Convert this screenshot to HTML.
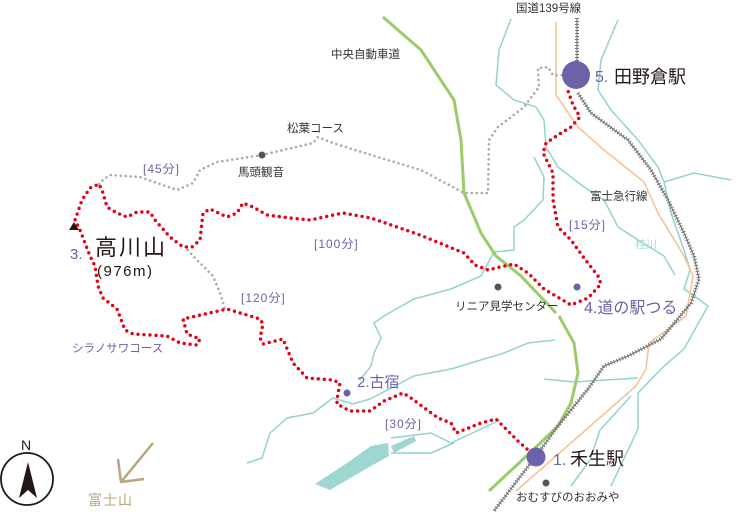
<!DOCTYPE html>
<html><head><meta charset="utf-8"><style>
html,body{margin:0;padding:0;background:#fff;}
svg{display:block;}
text{font-family:"Liberation Sans","Noto Sans CJK JP",sans-serif;}
</style></head><body>
<svg width="742" height="512" viewBox="0 0 742 512" xmlns="http://www.w3.org/2000/svg">
<g fill="none" stroke="#92d3cf" stroke-width="1.5">
<polyline points="511,19 499,50 496,85 514,100 536,107 544,120 546,147 558,167 584,187 604,200 618,227 638,240 664,256 675,275"/>
<polyline points="618,20 601,60 598,90 611,110 638,140 658,167 664,182 671,213 684,250 690,270 684,289 708,306 684,349 664,366 638,393 638,429 611,486"/>
<polyline points="664,182 694,173 731,180"/>
<polyline points="684,289 700,300"/>
<polyline points="534,157 544,177 543,200 524,220 514,227 514,250 494,252 481,276 451,289 414,299 384,316 374,323 381,338 374,353 371,366 360,380"/>
<polyline points="247,463 262,458 270,433 287,418 313,413 333,398 353,404 370,399 391,388 414,376 451,369 504,353 528,343 555,340"/>
<polyline points="544,379 574,382 638,378"/>
<polyline points="391,438 431,433 451,443 481,429 500,420"/>
<polyline points="391,453 431,453 454,443"/>
<polyline points="631,396 600,430 590,460 571,486"/>
</g>
<polygon points="315,484 350,461 371,446 388,443 389,456 371,466 330,490" fill="#9fd6d2"/>
<polygon points="391,446 414,436 416,441 394,453" fill="#9fd6d2"/>
<polyline points="383,17 421,50 454,100 461,140 464,193 481,233 496,256 521,276 556,313" fill="none" stroke="#9ccb6a" stroke-width="3"/>
<polyline points="559,316 574,343 578,373 571,403 558,426 534,449 489,491" fill="none" stroke="#9ccb6a" stroke-width="3"/>
<polyline points="556,22 556,95 578,127 604,150 644,182 658,213 684,256 693,276 686,316 649,343 646,369 636,386 516,491" fill="none" stroke="#f7c08e" stroke-width="1.5"/>
<g fill="none">
<polyline points="577,18 577,75" stroke="#666" stroke-width="1"/>
<polyline points="577,18 577,75" stroke="#777" stroke-width="4" stroke-dasharray="1 2"/>
<polyline points="578,93 591,113 628,140 651,170 668,200 684,233 694,256 699,279 691,303 661,339 628,356 604,366 588,389 558,426 536,456 494,511" stroke="#666" stroke-width="1"/>
<polyline points="578,93 591,113 628,140 651,170 668,200 684,233 694,256 699,279 691,303 661,339 628,356 604,366 588,389 558,426 536,456 494,511" stroke="#777" stroke-width="4" stroke-dasharray="1 2"/>
</g>
<g fill="none" stroke="#aaa" stroke-width="2.6" stroke-linecap="round" stroke-dasharray="0 5">
<polyline points="99,184 103,180 110,175 140,177 177,190 193,183 200,170 217,162 262,155 313,143 318,137 333,143 371,155 421,170 464,193 488,193 489,140 498,127 524,107 539,87 538,68 548,67 553,75 562,75"/>
<polyline points="188,250 193,256 213,276 220,293 225,309"/>
</g>
<g fill="none" stroke="#e60012" stroke-width="3.4" stroke-linecap="round" stroke-dasharray="0 6">
<polyline points="527,449 518,441 496,419 481,423 456,433 451,423 438,418 411,398 403,393 384,401 370,411 350,411 337,404 337,399 340,383 333,380 307,378 293,363 283,339 263,344 260,338 263,324 260,319 227,309 183,319 187,334 200,339 197,345 180,343 167,336 133,334 125,330 117,309 103,298 98,286 95,266 90,256 80,230 75,220 82,200 90,188 99,184 103,193 107,207 117,213 127,217 137,212 150,212 155,220 170,237 183,247 192,247 200,240 203,213 210,209 227,217 237,213 243,203 253,207 267,215 290,218 310,220 343,213 371,218 420,235 464,253 475,265 488,270 500,267 514,264 528,273 544,289 571,305 588,298 601,284 598,276 584,258 571,240 558,227 553,200 553,173 543,153 546,143 558,135 571,127 580,117 573,105 567,88"/>
</g>
<polygon points="74,222 69,230 79,230" fill="#231815"/>
<circle cx="262" cy="155" r="3.5" fill="#555"/>
<circle cx="498" cy="287" r="3.5" fill="#555"/>
<circle cx="546" cy="483" r="3.5" fill="#555"/>
<circle cx="577" cy="287" r="3.5" fill="#6b62a8"/>
<circle cx="347" cy="393" r="3.5" fill="#6b62a8"/>
<circle cx="536" cy="457" r="9.5" fill="#6b62a8"/>
<circle cx="576" cy="75" r="14" fill="#6b62a8"/>
<g font-size="11.5" fill="#333">
<text x="516" y="12">国道139号線</text>
<text x="331" y="58">中央自動車道</text>
<text x="287" y="132">松葉コース</text>
<text x="238" y="176">馬頭観音</text>
<text x="455" y="310">リニア見学センター</text>
<text x="590" y="200">富士急行線</text>
<text x="516" y="501">おむすびのおおみや</text>
</g>
<g font-size="12" fill="#6b62a8" letter-spacing="1">
<text x="143" y="173">[45分]</text>
<text x="314" y="248">[100分]</text>
<text x="241" y="302">[120分]</text>
<text x="385" y="428">[30分]</text>
<text x="569" y="229">[15分]</text>
</g>
<text x="72" y="352" font-size="11.5" fill="#6b62a8">シラノサワコース</text>
<text x="635" y="248" font-size="11" fill="#a8dcd8">桂川</text>
<text x="70" y="259" font-size="15" fill="#6b62a8">3.</text>
<text x="95" y="255" font-size="22" fill="#231815" letter-spacing="2">高川山</text>
<text x="97" y="276" font-size="15" fill="#231815" letter-spacing="1.5">(976m)</text>
<text x="357" y="387" font-size="15" fill="#6b62a8">2.古宿</text>
<text x="584" y="313" font-size="16" fill="#6b62a8">4.道の駅つる</text>
<text x="553" y="465" font-size="16" fill="#6b62a8">1.</text>
<text x="570" y="465" font-size="18" fill="#231815">禾生駅</text>
<text x="595" y="82" font-size="16" fill="#6b62a8">5.</text>
<text x="614" y="83" font-size="18" fill="#231815">田野倉駅</text>
<circle cx="27" cy="479" r="26" fill="none" stroke="#231815" stroke-width="1.8"/>
<text x="21" y="450" font-size="14" fill="#231815">N</text>
<polygon points="28,462 19,498 28,490 37,498" fill="#231815"/>
<g stroke="#b9a57a" stroke-width="2.5" fill="none">
<line x1="153" y1="443" x2="121" y2="482"/>
<polyline points="118,459 121,482 144,479"/>
</g>
<text x="88" y="505" font-size="14" fill="#b9a57a" letter-spacing="1">富士山</text>
</svg>
</body></html>
